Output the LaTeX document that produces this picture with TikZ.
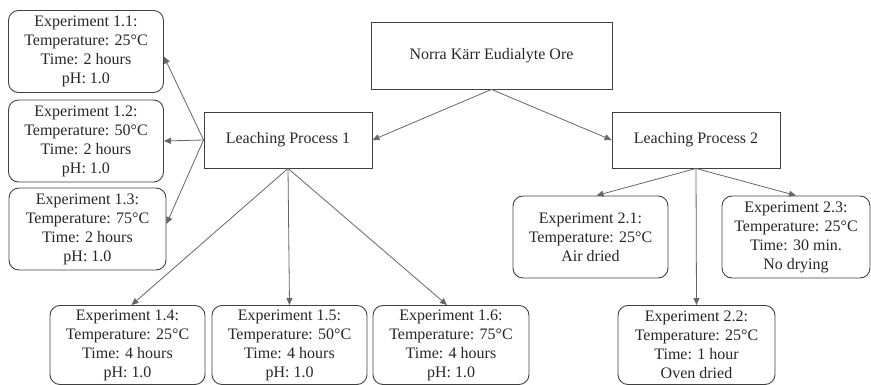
\documentclass[tikz,border=0pt]{standalone}
\usepackage{fontspec}
\setmainfont{Liberation Serif}
\usepackage{tikz}
\usetikzlibrary{arrows.meta}

\begin{document}
\begin{tikzpicture}[x=1pt,y=-1pt,
		every node/.style={font=\fontsize{16}{19}\selectfont, text=black!85, align=center, inner sep=0pt},
		procbox/.style={draw=black!75, line width=0.9pt, minimum width=168pt, minimum height=56pt},
		expbox/.style={draw=black!75, line width=0.9pt, rounded corners=10pt, minimum width=155pt, minimum height=82pt},
		link/.style={draw=black!60, line width=0.8pt, -{Triangle[length=7pt,width=6pt]}}]
		\useasboundingbox (0,0) rectangle (871,385);
		% top and the two processes
		\node [procbox, minimum width=241pt, minimum height=67pt] (ore) at (491.5,55.5) {Norra K\"arr Eudialyte Ore};
		\node [procbox] (lp1) at (288,140) {Leaching Process 1};
		\node [procbox] (lp2) at (696,140) {Leaching Process 2};
		% process 1
		\node [expbox] (e11) at (86,51.5) {Experiment 1.1:\\Temperature: 25\textdegree C\\Time: 2 hours\\pH: 1.0};
		\node [expbox] (e12) at (86,141) {Experiment 1.2:\\Temperature: 50\textdegree C\\Time: 2 hours\\pH: 1.0};
		\node [expbox, minimum width=157pt] (e13) at (87.5,229) {Experiment 1.3:\\Temperature: 75\textdegree C\\Time: 2 hours\\pH: 1.0};
		\node [expbox, minimum height=79pt] (e14) at (127.5,345) {Experiment 1.4:\\Temperature: 25\textdegree C\\Time: 4 hours\\pH: 1.0};
		\node [expbox, minimum height=79pt] (e15) at (289.5,345) {Experiment 1.5:\\Temperature: 50\textdegree C\\Time: 4 hours\\pH: 1.0};
		\node [expbox, minimum height=79pt, minimum width=156pt] (e16) at (451,345) {Experiment 1.6:\\Temperature: 75\textdegree C\\Time: 4 hours\\pH: 1.0};
		% process 2
		\node [expbox] (e21) at (590.5,237) {Experiment 2.1:\\Temperature: 25\textdegree C\\Air dried};
		\node [expbox, minimum height=79pt, minimum width=157pt] (e22) at (696.5,345) {Experiment 2.2:\\Temperature: 25\textdegree C\\Time: 1 hour\\Oven dried};
		\node [expbox, minimum width=148pt] (e23) at (796,237) {Experiment 2.3:\\Temperature: 25\textdegree C\\Time: 30 min.\\No drying};
		% links
		\draw [link] (ore.south) -- (lp1.east);
		\draw [link] (ore.south) -- (lp2.west);
		\draw [link] (lp1.west) -- ([yshift=-5pt]e11.east);
		\draw [link] (lp1.west) -- (e12.east);
		\draw [link] (lp1.west) -- ([yshift=5pt]e13.east);
		\draw [link] (lp1.south) -- ([xshift=4pt]e14.north);
		\draw [link] (lp1.south) -- (e15.north);
		\draw [link] (lp1.south) -- ([xshift=-4pt]e16.north);
		\draw [link] (lp2.south) -- ([xshift=6pt]e21.north);
		\draw [link] (lp2.south) -- (e22.north);
		\draw [link] (lp2.south) -- (e23.north);
\end{tikzpicture}
\end{document}
